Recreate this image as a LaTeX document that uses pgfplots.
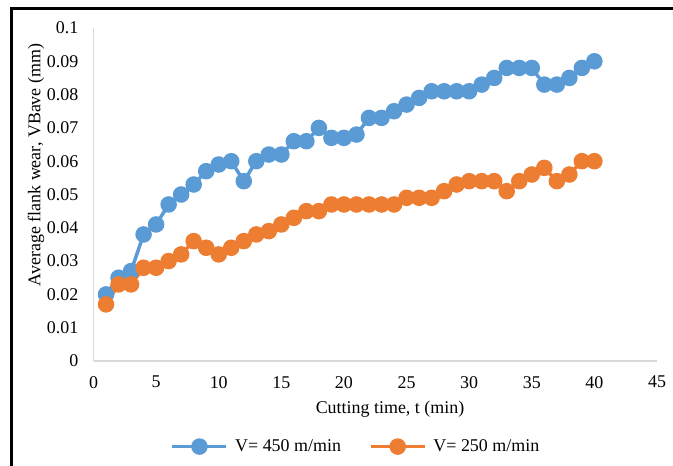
\documentclass[border=0pt]{standalone}
\usepackage{pgfplots}
\pgfplotsset{compat=1.18}
\usepackage{fontspec}
\setmainfont{Liberation Serif}
\definecolor{cblue}{HTML}{5B9BD5}
\definecolor{corange}{HTML}{ED7D31}
\definecolor{axgray}{HTML}{D9D9D9}
\begin{document}
\begin{tikzpicture}[x=1bp,y=1bp,font=\fontsize{18}{21}\selectfont]
\useasboundingbox (0,0) rectangle (673,466);
\clip (0,0) rectangle (673,466);
\draw[black, line width=2.2bp] (11.5,-5) -- (11.5,457.5) -- (680,457.5);
\begin{axis}[
  at={(93.5bp,105bp)}, anchor=south west,
  scale only axis, width=563.5bp, height=333bp,
  xmin=0, xmax=45, ymin=0, ymax=0.1,
  axis x line*=bottom, axis y line*=left,
  axis line style={draw=axgray, line width=1.3bp},
  xtick={0,5,10,15,20,25,30,35,40,45},
  ytick={0,0.01,0.02,0.03,0.04,0.05,0.06,0.07,0.08,0.09,0.1},
  major tick length=0pt, tick style={draw=none},
  /pgf/number format/assume math mode=true,
  scaled y ticks=false,
  yticklabel style={/pgf/number format/fixed, /pgf/number format/precision=2, anchor=east, inner sep=0pt, xshift=-15bp},
  xticklabel style={anchor=north, inner sep=0pt, yshift=-15bp},
  clip=false,
  legend columns=2,
  legend style={at={(axis description cs:0.464,-0.257)}, anchor=center, draw=none, fill=none, inner sep=0pt,
    nodes={inner sep=0pt}, column sep=7bp, /tikz/every even column/.append style={column sep=28bp}},
  legend image code/.code={\draw[mark repeat=2,mark phase=2,#1] plot coordinates {(0bp,0bp) (27bp,0bp) (54bp,0bp)};},
]
\addplot[color=cblue, line width=3.5bp, mark=*, mark size=6.5bp, mark options={draw=none, fill=cblue}] coordinates {
(1,0.020) (2,0.025) (3,0.027) (4,0.038) (5,0.041) (6,0.047) (7,0.050) (8,0.053) (9,0.057) (10,0.059)
(11,0.060) (12,0.054) (13,0.060) (14,0.062) (15,0.062) (16,0.066) (17,0.066) (18,0.070) (19,0.067) (20,0.067)
(21,0.068) (22,0.073) (23,0.073) (24,0.075) (25,0.077) (26,0.079) (27,0.081) (28,0.081) (29,0.081) (30,0.081)
(31,0.083) (32,0.085) (33,0.088) (34,0.088) (35,0.088) (36,0.083) (37,0.083) (38,0.085) (39,0.088) (40,0.090)
};
\addlegendentry{V= 450 m/min}
\addplot[color=corange, line width=3.5bp, mark=*, mark size=6.5bp, mark options={draw=none, fill=corange}] coordinates {
(1,0.017) (2,0.023) (3,0.023) (4,0.028) (5,0.028) (6,0.030) (7,0.032) (8,0.036) (9,0.034) (10,0.032)
(11,0.034) (12,0.036) (13,0.038) (14,0.039) (15,0.041) (16,0.043) (17,0.045) (18,0.045) (19,0.047) (20,0.047)
(21,0.047) (22,0.047) (23,0.047) (24,0.047) (25,0.049) (26,0.049) (27,0.049) (28,0.051) (29,0.053) (30,0.054)
(31,0.054) (32,0.054) (33,0.051) (34,0.054) (35,0.056) (36,0.058) (37,0.054) (38,0.056) (39,0.060) (40,0.060)
};
\addlegendentry{V= 250 m/min}
\end{axis}
\node at (390,57) {Cutting time, t (min)};
\node[rotate=90] at (36,301) {Average flank wear, VBave (mm)};
\end{tikzpicture}
\end{document}
